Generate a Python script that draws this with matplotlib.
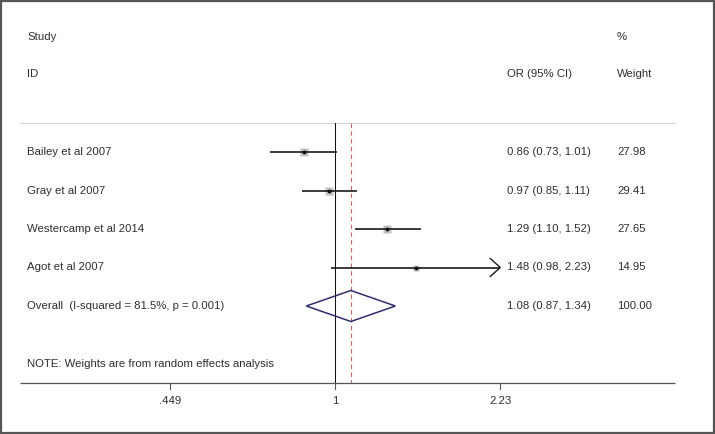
"""
Forest plot: OR (95% CI) per study, random effects meta-analysis.
Output: out.png
"""

import numpy as np
import matplotlib.pyplot as plt
from matplotlib.patches import Polygon, Rectangle
from matplotlib.transforms import blended_transform_factory

# ─── Data ─────────────────────────────────────────────────────────────────────
STUDIES = ["Bailey et al 2007", "Gray et al 2007",
           "Westercamp et al 2014", "Agot et al 2007"]
OR_EST  = [0.86, 0.97, 1.29, 1.48]
CI_LOW  = [0.73, 0.85, 1.10, 0.98]
CI_HIGH = [1.01, 1.11, 1.52, 2.23]
WEIGHTS = [27.98, 29.41, 27.65, 14.95]

OVERALL_LABEL = "Overall  (I-squared = 81.5%, p = 0.001)"
OVERALL_EST   = 1.08
OVERALL_LOW   = 0.87
OVERALL_HIGH  = 1.34
OVERALL_WT    = 100.00

X_TICKS       = [0.449, 1.0, 2.23]
X_TICK_LABELS = [".449", "1", "2.23"]
X_MAX_SHOWN   = 2.23     # CIs reaching this get an arrow

NOTE = "NOTE: Weights are from random effects analysis"

# ─── Layout (pixel-ish coordinates) ───────────────────────────────────────────
W, H       = 715, 434
X_NULL_PX  = 335.0       # pixel x of OR = 1
PX_PER_LN  = 206.07      # pixels per unit of ln(OR)
ROW0, STEP = 152.0, 38.5
TEXT_COL   = "#2e2e2e"
FS         = 8.2

plt.rcParams["font.family"] = ["Liberation Sans", "DejaVu Sans"]

fig = plt.figure(figsize=(W / 100, H / 100), dpi=100)
ax = fig.add_axes([0, 0, 1, 1])
ax.set_xscale("log")
ax.set_xlim(np.exp(-X_NULL_PX / PX_PER_LN), np.exp((W - X_NULL_PX) / PX_PER_LN))
ax.set_ylim(H, 0)
ax.axis("off")

# x in axes fraction, y in data (pixels)
tx = blended_transform_factory(ax.transAxes, ax.transData)


def xfrac(px):
    return px / W


def row_y(i):
    return ROW0 + STEP * i


def label(px, y, s, **kw):
    ax.text(xfrac(px), y, s, transform=tx, fontsize=FS, color=TEXT_COL,
            va="center", **kw)


# ─── Headers ──────────────────────────────────────────────────────────────────
label(27, 37, "Study")
label(27, 74, "ID")
label(617, 37, "%")
label(507, 74, "OR (95% CI)")
label(617, 74, "Weight")

# separator under headers
ax.plot([xfrac(20), xfrac(675)], [123, 123], transform=tx,
        color="#d4d4d4", lw=0.9, solid_capstyle="butt")

# ─── Reference lines ─────────────────────────────────────────────────────────
AXIS_Y = 383
ax.plot([1, 1], [123, AXIS_Y], color="#111111", lw=0.75)
ax.plot([OVERALL_EST, OVERALL_EST], [123, AXIS_Y], color="#c46a6a",
        lw=0.8, ls=(0, (4, 3)))

# ─── Studies ─────────────────────────────────────────────────────────────────
arrow_dx = np.exp(-10 / PX_PER_LN)
for i, (name, est, lo, hi, wt) in enumerate(zip(STUDIES, OR_EST, CI_LOW, CI_HIGH, WEIGHTS)):
    y = row_y(i)
    label(27, y, name)
    label(507, y, f"{est:.2f} ({lo:.2f}, {hi:.2f})")
    label(617, y, f"{wt:.2f}")

    # box area proportional to weight
    side = 1.0 * np.sqrt(wt)
    ax.plot(est, y, marker="s", ms=side, color="#c2c2c2", mec="none", zorder=2)
    ax.plot([lo, hi], [y, y], color="#1a1a1a", lw=1.2, zorder=3,
            solid_capstyle="butt")
    ax.plot(est, y, marker="o", ms=2.8, color="#111111", mec="none", zorder=4)

    if hi >= X_MAX_SHOWN:
        ax.plot([hi * arrow_dx, hi, hi * arrow_dx], [y - 9, y, y + 9],
                color="#1a1a1a", lw=1.0, zorder=3)

# ─── Overall diamond ─────────────────────────────────────────────────────────
yo = row_y(len(STUDIES))
diamond = Polygon([(OVERALL_LOW, yo), (OVERALL_EST, yo - 15.5),
                   (OVERALL_HIGH, yo), (OVERALL_EST, yo + 15.5)],
                  closed=True, fill=False, edgecolor="#2e2e6e", lw=1.1, zorder=3)
ax.add_patch(diamond)
label(27, yo, OVERALL_LABEL)
label(507, yo, f"{OVERALL_EST:.2f} ({OVERALL_LOW:.2f}, {OVERALL_HIGH:.2f})")
label(617, yo, f"{OVERALL_WT:.2f}")

# ─── Note and x axis ─────────────────────────────────────────────────────────
label(27, 364, NOTE)

ax.plot([xfrac(20), xfrac(675)], [AXIS_Y, AXIS_Y], transform=tx,
        color="#555555", lw=0.9, solid_capstyle="butt")
for t, lab in zip(X_TICKS, X_TICK_LABELS):
    ax.plot([t, t], [AXIS_Y, AXIS_Y + 6], color="#555555", lw=0.8)
    ax.text(t, 401, lab, fontsize=FS, color=TEXT_COL, ha="center", va="center")

# ─── Outer frame ─────────────────────────────────────────────────────────────
fig.patches.append(Rectangle((0.001, 0.002), 0.997, 0.996, transform=fig.transFigure,
                             fill=False, edgecolor="#555555", lw=1.6))

fig.savefig("out.png", dpi=100, facecolor="white")
